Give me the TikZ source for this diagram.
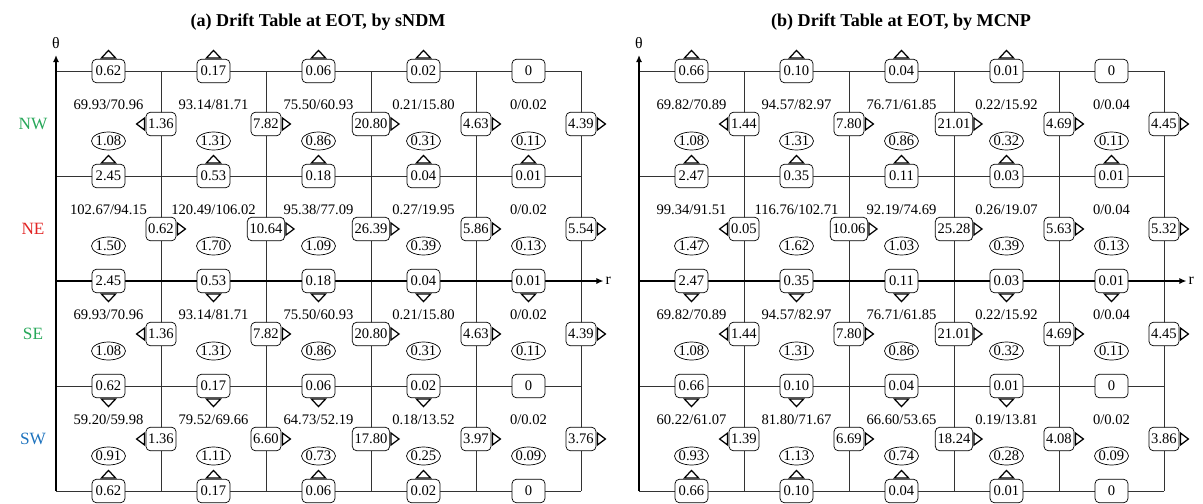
\documentclass[tikz,border=0pt]{standalone}
\usepackage{fontspec}
\setmainfont{Liberation Serif}
\usetikzlibrary{arrows.meta,shapes.geometric}

\definecolor{nwgreen}{RGB}{40,168,90}
\definecolor{nered}{RGB}{226,36,36}
\definecolor{swblue}{RGB}{30,115,190}
\newcommand{\numfont}{\fontsize{8.3}{10}\selectfont}

% #1 prefix, #2 title, #3 values on horizontal lines, #4 values on vertical lines,
% #5 ratios, #6 values in the ovals
\newcommand{\drifttable}[6]{%
  \foreach \i in {0,...,5}
    \foreach \j in {0,...,4}
      \coordinate (#1-g\i\j) at (\i*2.1, 4.2-\j*2.1);
  \coordinate (#1-top) at (0,4.52);
  \coordinate (#1-end) at (10.95,0);
  \foreach \j in {0,1,3,4}
    \draw[gridline] (#1-g0\j) -- (#1-g5\j);
  \foreach \i in {1,...,5}
    \draw[gridline] (#1-g\i0) -- (#1-g\i4);
  \draw[axisline] (#1-g04) -- (#1-top);
  \draw[axisline] (#1-g02) -- (#1-end);
  \node[font=\fontsize{9}{10}\selectfont] (#1-theta) at (0,4.76) {θ};
  \node[anchor=west, font=\fontsize{9}{10}\selectfont, inner sep=1pt] (#1-r) at (#1-end) {r};
  \node[ttl] (#1-title) at (5.24,5.18) {#2};
  % boxes sitting on the horizontal lines
  \foreach \vals [count=\j from 0] in {#3}
    \foreach \val [count=\i] in \vals
      \node[hbox] (#1-h\j\i) at (\i*2.1-1.05, 4.2-\j*2.1) {\val};
  \foreach \j/\n in {0/4,1/5,4/4}
    \foreach \i in {1,...,\n}
      \draw[tri] ([yshift=0.02cm]#1-h\j\i.north) ++(-0.14,0) -- ++(0.28,0) -- ++(-0.14,0.15) -- cycle;
  \foreach \j/\n in {2/5,3/4}
    \foreach \i in {1,...,\n}
      \draw[tri] ([yshift=-0.02cm]#1-h\j\i.south) ++(-0.14,0) -- ++(0.28,0) -- ++(-0.14,-0.15) -- cycle;
  % boxes sitting on the vertical lines
  \foreach \row [count=\k] in {#4}
    \foreach \val/\anc/\s [count=\i] in \row {
      \node[vbox] (#1-v\k\i) at (\i*2.1, 5.24-\k*2.1) {\val};
      \draw[tri] ([xshift=\s*0.02cm]#1-v\k\i.\anc) ++(0,0.12) -- ++(\s*0.16,-0.12) -- ++(-\s*0.16,-0.12) -- cycle;
    }
  \foreach \row [count=\k] in {#5}
    \foreach \rat [count=\i] in \row
      \node[ratio] (#1-t\k\i) at (\i*2.1-1.05, 5.62-\k*2.1) {\rat};
  \foreach \row [count=\k] in {#6}
    \foreach \ov [count=\i] in \row
      \node[oval] (#1-e\k\i) at (\i*2.1-1.05, 4.9-\k*2.1) {\ov};
}

\begin{document}
\begin{tikzpicture}[
  gridline/.style={line width=0.5pt, black!80},
  axisline/.style={line width=1pt, -{Latex[length=4pt,width=3.5pt]}},
  hbox/.style={draw, rounded corners=2.5pt, fill=white, minimum width=0.66cm,
               minimum height=0.47cm, inner xsep=2pt, inner ysep=0pt, font=\numfont},
  vbox/.style={draw, rounded corners=2.5pt, fill=white, minimum height=0.47cm,
               inner xsep=1.3pt, inner ysep=0pt, font=\numfont},
  oval/.style={draw, ellipse, minimum height=0.36cm, minimum width=0.68cm,
               inner xsep=-1pt, inner ysep=0pt, font=\numfont},
  ratio/.style={font=\numfont, inner sep=0pt},
  tri/.style={line width=0.7pt, fill=white},
  ttl/.style={font=\fontsize{10.3}{12}\selectfont\bfseries},
  lab/.style={font=\fontsize{9.8}{12}\selectfont},
]
\useasboundingbox (0,0) rectangle (24.06,10.06);

% (a) sNDM
\begin{scope}[shift={(1.12,4.44)}]
\drifttable{a}{(a) Drift Table at EOT, by sNDM}
  {{0.62,0.17,0.06,0.02,0},{2.45,0.53,0.18,0.04,0.01},{2.45,0.53,0.18,0.04,0.01},
   {0.62,0.17,0.06,0.02,0},{0.62,0.17,0.06,0.02,0}}
  {{1.36/west/-1,7.82/east/1,20.80/east/1,4.63/east/1,4.39/east/1},
   {0.62/east/1,10.64/east/1,26.39/east/1,5.86/east/1,5.54/east/1},
   {1.36/west/-1,7.82/east/1,20.80/east/1,4.63/east/1,4.39/east/1},
   {1.36/west/-1,6.60/east/1,17.80/east/1,3.97/east/1,3.76/east/1}}
  {{69.93/70.96,93.14/81.71,75.50/60.93,0.21/15.80,0/0.02},
   {102.67/94.15,120.49/106.02,95.38/77.09,0.27/19.95,0/0.02},
   {69.93/70.96,93.14/81.71,75.50/60.93,0.21/15.80,0/0.02},
   {59.20/59.98,79.52/69.66,64.73/52.19,0.18/13.52,0/0.02}}
  {{1.08,1.31,0.86,0.31,0.11},{1.50,1.70,1.09,0.39,0.13},
   {1.08,1.31,0.86,0.31,0.11},{0.91,1.11,0.73,0.25,0.09}}
\node[lab, text=nwgreen] (nw) at (-0.46,3.14) {NW};
\node[lab, text=nered] (ne) at (-0.46,1.04) {NE};
\node[lab, text=nwgreen] (se) at (-0.46,-1.06) {SE};
\node[lab, text=swblue] (sw) at (-0.46,-3.16) {SW};
\end{scope}

% (b) MCNP
\begin{scope}[shift={(12.78,4.44)}]
\drifttable{b}{(b) Drift Table at EOT, by MCNP}
  {{0.66,0.10,0.04,0.01,0},{2.47,0.35,0.11,0.03,0.01},{2.47,0.35,0.11,0.03,0.01},
   {0.66,0.10,0.04,0.01,0},{0.66,0.10,0.04,0.01,0}}
  {{1.44/west/-1,7.80/east/1,21.01/east/1,4.69/east/1,4.45/east/1},
   {0.05/west/-1,10.06/east/1,25.28/east/1,5.63/east/1,5.32/east/1},
   {1.44/west/-1,7.80/east/1,21.01/east/1,4.69/east/1,4.45/east/1},
   {1.39/west/-1,6.69/east/1,18.24/east/1,4.08/east/1,3.86/east/1}}
  {{69.82/70.89,94.57/82.97,76.71/61.85,0.22/15.92,0/0.04},
   {99.34/91.51,116.76/102.71,92.19/74.69,0.26/19.07,0/0.04},
   {69.82/70.89,94.57/82.97,76.71/61.85,0.22/15.92,0/0.04},
   {60.22/61.07,81.80/71.67,66.60/53.65,0.19/13.81,0/0.02}}
  {{1.08,1.31,0.86,0.32,0.11},{1.47,1.62,1.03,0.39,0.13},
   {1.08,1.31,0.86,0.32,0.11},{0.93,1.13,0.74,0.28,0.09}}
\end{scope}
\end{tikzpicture}
\end{document}
